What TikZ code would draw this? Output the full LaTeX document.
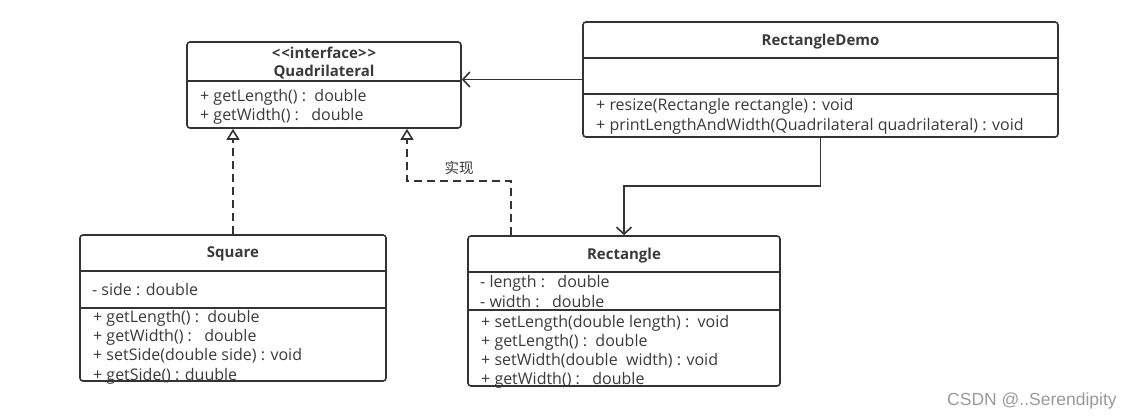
\documentclass[tikz,border=0pt]{standalone}
\usepackage{fontspec}
\setmainfont{Open Sans}
\newfontfamily\cjk{Noto Sans CJK SC}
\newfontfamily\wmfont{Liberation Sans}
\usetikzlibrary{arrows.meta,calc}
\definecolor{umlline}{HTML}{333333}
\definecolor{umltext}{HTML}{3A3A3A}
\tikzset{
	cls/.style={draw=umlline, line width=1.6pt, rounded corners=3pt, fill=white, inner sep=0pt},
	sep/.style={draw=umlline, line width=1.6pt},
	member/.style={anchor=west, inner sep=0pt, text=umltext, font=\fontsize{16}{18}\selectfont},
	clsname/.style={inner sep=0pt, text=umltext, font=\fontsize{15}{17}\selectfont\bfseries},
	real/.style={draw=umlline, line width=1.6pt, dash pattern=on 8pt off 5pt, -{Triangle[open, length=11pt, width=13pt]}},
	assoc/.style={draw=umlline, line width=1.6pt, -{Straight Barb[length=7pt, width=15pt]}}
}
\begin{document}
\begin{tikzpicture}[x=1pt, y=-1pt]
		%%%%% START %%%%%
		\useasboundingbox (0,0) rectangle (1137,420);
		
		% interface
		\node[cls, minimum width=274pt, minimum height=86pt] (quad) at (324,85) {};
		\draw[sep] (quad.west |- 0,81) -- (quad.east |- 0,81);
		\node[clsname] (qst) at (324,53) {<\kern1pt<interface>\kern1pt>};
		\node[clsname] (qname) at (324,72) {Quadrilateral};
		\node[member] (q1) at (200,97) {+ getLength() :\ \ double};
		\node[member] (q2) at (200,116) {+ getWidth() :\ \ \ double};
		
		% demo class
		\node[cls, minimum width=475pt, minimum height=115pt] (demo) at (820.5,79.5) {};
		\draw[sep] (demo.west |- 0,58) -- (demo.east |- 0,58);
		\draw[sep] (demo.west |- 0,94) -- (demo.east |- 0,94);
		\node[clsname] (dname) at (820.5,42) {RectangleDemo};
		\node[member] (d1) at (596,106) {+ resize(Rectangle rectangle) : void};
		\node[member] (d2) at (596,126) {+ printLengthAndWidth(Quadrilateral quadrilateral) : void};
		
		% square
		\node[cls, minimum width=306pt, minimum height=146pt] (sq) at (233,308) {};
		\draw[sep] (sq.west |- 0,271) -- (sq.east |- 0,271);
		\draw[sep] (sq.west |- 0,308) -- (sq.east |- 0,308);
		\node[clsname] (sname) at (233,254) {Square};
		\node[member] (s0) at (92,290) {- side : double};
		\node[member] (s1) at (93,318) {+ getLength() :\ \ double};
		\node[member] (s2) at (93,337) {+ getWidth() :\ \ \ double};
		\node[member] (s3) at (93,356) {+ setSide(double side) : void};
		\node[member] (s4) at (93,376) {+ getSide() : duuble};
		
		% rectangle
		\node[cls, minimum width=312pt, minimum height=150pt] (rect) at (624,311) {};
		\draw[sep] (rect.west |- 0,272) -- (rect.east |- 0,272);
		\draw[sep] (rect.west |- 0,310) -- (rect.east |- 0,310);
		\node[clsname] (rname) at (624,256) {Rectangle};
		\node[member] (r0) at (480,283) {- length :\ \ \ double};
		\node[member] (r1) at (480,302) {- width :\ \ \ double};
		\node[member] (r2) at (481,323) {+ setLength(double length) :\ \ void};
		\node[member] (r3) at (481,342) {+ getLength() :\ \ double};
		\node[member] (r4) at (481,361) {+ setWidth(double\ \ width) : void};
		\node[member] (r5) at (481,380) {+ getWidth() :\ \ \ double};
		
		% connectors
		\draw[real] (sq.north) -- (sq.north |- quad.south);
		\coordinate (rtop) at ([xshift=-113pt]rect.north);
		\coordinate (qfoot) at ([xshift=83pt]quad.south);
		\draw[real] (rtop) -- (rtop |- 0,181) -- (qfoot |- 0,181) -- (qfoot);
		\node[member, anchor=center, font=\cjk\fontsize{14.5}{16}\selectfont] (lbl) at (459,168) {实现};
		\draw[assoc] (demo.west) -- (demo.west -| quad.east);
		\draw[assoc] (demo.south) -- (demo.south |- 0,186) -- (rect.north |- 0,186) -- (rect.north);
		
		\node[anchor=west, inner sep=0pt, text=black!40, font=\wmfont\fontsize{17.5}{19}\selectfont] (wm) at (947,401) {CSDN @..Serendipity};
		%%%%% END %%%%%
\end{tikzpicture}
\end{document}
